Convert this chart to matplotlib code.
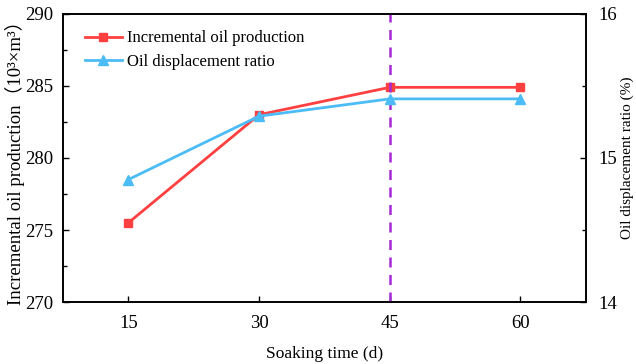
import matplotlib
matplotlib.use("Agg")
import matplotlib.pyplot as plt
from matplotlib.ticker import MultipleLocator, AutoMinorLocator

# data
soak_days = [15, 30, 45, 60]
oil_prod = [275.5, 283.0, 284.9, 284.9]          # 10^3 m^3
disp_ratio = [14.85, 15.29, 15.41, 15.41]        # %
best_day = 45

plt.rcParams["font.family"] = ["Liberation Serif", "Noto Sans CJK SC", "DejaVu Sans"]
plt.rcParams["font.size"] = 13.5

RED = "#ff4040"
BLUE = "#4cbcf7"
PURPLE = "#a52ad6"

fig = plt.figure(figsize=(6.36, 3.64), dpi=100)
ax = fig.add_axes([0.099, 0.170, 0.822, 0.792])
ax2 = ax.twinx()

l1, = ax.plot(soak_days, oil_prod, color=RED, lw=2.0, marker="s", ms=5.5,
              label="Incremental oil production")
l2, = ax2.plot(soak_days, disp_ratio, color=BLUE, lw=2.0, marker="^", ms=6.5,
               label="Oil displacement ratio")
ax.axvline(best_day, color=PURPLE, lw=1.8, ls=(0, (4, 3)))

ax.set_xlim(7.5, 67.5)
ax.set_ylim(270, 290)
ax2.set_ylim(14, 16)
ax.set_xticks(soak_days)
ax.yaxis.set_major_locator(MultipleLocator(5))
ax.yaxis.set_minor_locator(AutoMinorLocator(2))
ax2.yaxis.set_major_locator(MultipleLocator(1))
ax2.yaxis.set_minor_locator(AutoMinorLocator(2))

for a in (ax, ax2):
    a.tick_params(which="both", direction="in", width=1.0)
    a.tick_params(which="major", length=4)
    a.tick_params(which="minor", length=3)
    for s in a.spines.values():
        s.set_linewidth(1.2)
ax.tick_params(axis="x", pad=9)
ax.tick_params(axis="y", pad=7)
ax2.tick_params(axis="y", pad=9)

ax.set_xlabel("Soaking time (d)", fontsize=12.5, labelpad=10)
ax.set_ylabel("Incremental oil production（10³×m³）", fontsize=13.5)
ax2.set_ylabel("Oil displacement ratio (%)", fontsize=11)
# axis labels sit tight against the figure edges in the reference
ax.yaxis.set_label_coords(-0.072, 0.5)
ax2.yaxis.set_label_coords(1.066, 0.5)

ax.legend(handles=[l1, l2], loc="upper left", frameon=False, fontsize=12,
          handlelength=2.2, handletextpad=0.3, borderaxespad=0.6,
          labelspacing=0.45, bbox_to_anchor=(0.01, 1.0))

fig.savefig("out.png", dpi=100)
